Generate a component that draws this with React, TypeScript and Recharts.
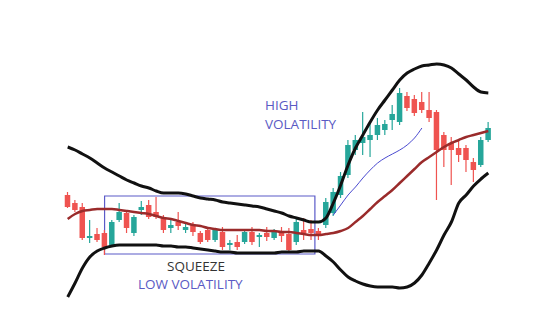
import { ComposedChart, Bar, Line, XAxis, YAxis, ReferenceArea } from 'recharts';

// candles: open / high / low / close (arbitrary price units)
const opens = [140, 132, 128, 97, 101, 102, 90, 115, 122, 102, 125, 130, 123, 118, 107, 113, 105, 110, 102, 105, 95, 103, 90, 93, 93, 103, 98, 102, 97, 103, 101, 93, 105, 106, 104, 110, 122, 140, 160, 185, 192, 195, 200, 205, 215, 213, 239, 236, 233, 225, 223, 200, 192, 187, 187, 173, 170, 195];
const highs = [143, 135, 132, 115, 107, 105, 115, 132, 125, 120, 134, 135, 138, 120, 115, 123, 113, 113, 104, 108, 107, 108, 95, 100, 105, 108, 102, 108, 106, 108, 107, 117, 117, 115, 107, 137, 147, 163, 195, 200, 223, 213, 217, 215, 230, 247, 243, 240, 243, 243, 225, 203, 198, 195, 190, 177, 198, 213];
const lows = [127, 123, 95, 92, 93, 80, 88, 113, 102, 99, 120, 116, 116, 102, 102, 105, 102, 99, 91, 93, 93, 85, 85, 85, 91, 90, 88, 94, 95, 93, 82, 90, 95, 95, 95, 107, 119, 137, 157, 180, 180, 178, 195, 200, 205, 210, 224, 219, 222, 213, 135, 168, 150, 173, 163, 153, 168, 193];
const closes = [128, 125, 97, 99, 95, 88, 113, 123, 107, 118, 128, 118, 118, 105, 110, 109, 108, 103, 93, 95, 105, 88, 92, 88, 103, 93, 100, 98, 103, 99, 85, 113, 102, 102, 99, 133, 143, 159, 190, 195, 198, 200, 210, 211, 221, 242, 227, 222, 225, 217, 185, 185, 185, 180, 175, 165, 195, 207];

// bollinger bands
const upperBand = [188, 185, 181, 177, 172, 167, 163, 159, 155, 152, 149, 147, 144, 142, 142, 142, 141, 139, 137, 136, 135, 133, 132, 131, 130, 129, 128, 126, 124, 122, 119, 117, 115, 113, 113, 117, 132, 150, 170, 187, 200, 213, 225, 235, 245, 255, 262, 266, 269, 270, 271, 270, 267, 261, 255, 248, 243, 242];
const middleBand = [116, 121, 124, 125, 126, 126, 126, 125, 124, 123, 122, 121, 119, 117, 116, 114, 112, 110, 109, 107, 106, 105, 105, 105, 105, 105, 105, 104, 104, 103, 103, 102, 101, 100, 100, 101, 102, 104, 107, 113, 119, 126, 133, 139, 145, 152, 159, 166, 173, 178, 183, 188, 192, 195, 198, 200, 202, 204];
const lowerBand = [38, 52, 67, 78, 84, 87, 89, 90, 90, 90, 90, 90, 90, 89, 89, 88, 88, 87, 86, 85, 84, 83, 83, 82, 82, 82, 82, 82, 82, 83, 83, 83, 84, 84, 84, 79, 73, 65, 58, 54, 51, 49, 48, 48, 48, 47, 48, 52, 60, 72, 85, 100, 113, 132, 140, 149, 156, 162];
const fastMa = [null, null, null, null, null, null, null, null, null, null, null, null, null, null, null, null, null, null, null, null, null, null, null, null, null, null, null, null, null, null, null, null, null, null, null, null, 120, 130, 140, 148, 157, 165, 172, 177, 181, 185, 190, 197, 207, null, null, null, null, null, null, null, null, null];

const data = opens.map((o, i) => ({
  i,
  open: o,
  high: highs[i],
  low: lows[i],
  close: closes[i],
  range: [lows[i], highs[i]],
  upper: upperBand[i],
  middle: middleBand[i],
  lower: lowerBand[i],
  fast: fastMa[i],
}));

const UP = '#26a69a';
const DOWN = '#ef5350';

function Candle(props: any) {
  const { x, y, width, height, payload } = props;
  if (!payload) return null;
  const { open, close, high, low } = payload;
  const k = height / (high - low);
  const cx = x + width / 2;
  const top = y + (high - Math.max(open, close)) * k;
  const bot = y + (high - Math.min(open, close)) * k;
  const color = close >= open ? UP : DOWN;
  return (
    <g>
      <line x1={cx} x2={cx} y1={y} y2={y + height} stroke={color} strokeWidth={1.2} />
      <rect x={cx - 2.75} y={top} width={5.5} height={Math.max(bot - top, 1.5)} fill={color} />
    </g>
  );
}

export default function App() {
  return (
    <div style={{ position: 'relative', width: 548, height: 335, background: '#fff' }}>
      <style>{'body{margin:0}'}</style>
      <ComposedChart width={548} height={335} data={data} margin={{ top: 0, right: 56, left: 64, bottom: 0 }}>
        <XAxis dataKey="i" type="number" domain={[-0.5, 57.5]} hide />
        <YAxis domain={[0, 335]} allowDataOverflow hide />
        <ReferenceArea x1={5} x2={33.5} y1={81} y2={139} fill="none" stroke="#5b5bc8" strokeWidth={1.2} ifOverflow="visible" />
        <Bar dataKey="range" barSize={5} shape={Candle} isAnimationActive={false} />
        <Line type="monotone" dataKey="upper" stroke="#111" strokeWidth={3} dot={false} isAnimationActive={false} />
        <Line type="monotone" dataKey="lower" stroke="#111" strokeWidth={3} dot={false} isAnimationActive={false} />
        <Line type="monotone" dataKey="middle" stroke="#9a2b2b" strokeWidth={2.5} dot={false} isAnimationActive={false} />
        <Line type="monotone" dataKey="fast" stroke="#4a4ad0" strokeWidth={1} dot={false} connectNulls={false} isAnimationActive={false} />
      </ComposedChart>
      <svg width={548} height={335} style={{ position: 'absolute', left: 0, top: 0, pointerEvents: 'none' }}>
        <g fontFamily="'Open Sans', sans-serif" fontSize={13.5}>
          <text x={265} y={110} fill="#5a5ac4">HIGH</text>
          <text x={265} y={129} fill="#5a5ac4">VOLATILITY</text>
          <text x={167} y={271} fill="#333">SQUEEZE</text>
          <text x={138} y={289} fill="#5a5ac4">LOW VOLATILITY</text>
        </g>
      </svg>
    </div>
  );
}
